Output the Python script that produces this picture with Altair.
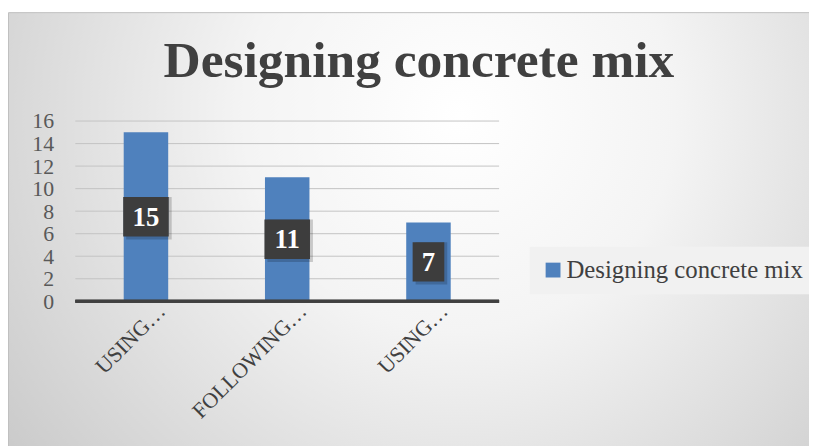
import altair as alt
import pandas as pd

labels = ["USING…", "FOLLOWING…", "USING…"]
values = [15, 11, 7]
series_name = "Designing concrete mix"
title_text = "Designing concrete mix"
y_ticks = [0, 2, 4, 6, 8, 10, 12, 14, 16]

df = pd.DataFrame({
    "idx": list(range(len(values))),
    "value": values,
    "series": [series_name] * len(values),
})
df["lab"] = df["value"].astype(str)
grid_df = pd.DataFrame({"tick": y_ticks[1:]})

W, H = 428, 182
PL, PT = 68, 112
TOTAL_W, TOTAL_H = 809, 438

label_expr = "[" + ",".join('"%s"' % l for l in labels) + "][datum.value]"

xenc = alt.X(
    "idx:O",
    scale=alt.Scale(paddingInner=0.685, paddingOuter=0.3425),
    axis=alt.Axis(
        title=None, labelExpr=label_expr, labelAngle=-45, labelAlign="right",
        labelBaseline="middle", labelFont="Liberation Serif", labelFontSize=22,
        labelColor="#404040", ticks=False, domain=False, grid=False,
        labelPadding=6, labelOffset=16, zindex=1, labelOverlap=False,
    ),
)
yscale = alt.Scale(domain=[0, 16], nice=False)

bg_fill = alt.Gradient(
    gradient="radial",
    x1=0.55, y1=0.35, r1=0.0,
    x2=0.55, y2=0.35, r2=0.75,
    stops=[
        alt.GradientStop(color="#ffffff", offset=0.0),
        alt.GradientStop(color="#f4f4f4", offset=0.35),
        alt.GradientStop(color="#c4c4c4", offset=1.0),
    ],
)

background = alt.Chart(alt.Data(values=[{"a": 1}])).mark_rect(
    fill=bg_fill, stroke="#bfbfbf", strokeWidth=1
).encode(
    x=alt.value(-PL + 0.5), x2=alt.value(TOTAL_W - PL + 20),
    y=alt.value(-PT + 2.5), y2=alt.value(TOTAL_H - PT + 20),
)

title = alt.Chart(alt.Data(values=[{"a": 1}])).mark_text(
    font="Liberation Serif", fontSize=52, fontWeight="bold", color="#404040",
    align="center", baseline="alphabetic",
).encode(x=alt.value(347), y=alt.value(-44), text=alt.value(title_text))

yaxis = alt.Axis(
    title=None, values=y_ticks, labelFont="Liberation Serif",
    labelFontSize=22, labelColor="#595959", ticks=False, domain=False,
    grid=False, labelPadding=22, zindex=1, labelOverlap=False,
    labelFlush=False,
)

grid = alt.Chart(grid_df).mark_rule(color="#c3c3c3", strokeWidth=1).encode(
    y=alt.Y("tick:Q", scale=yscale, axis=yaxis)
)

base = alt.Chart(df)

bars = base.mark_bar().encode(
    x=xenc,
    y=alt.Y("value:Q", scale=yscale, axis=yaxis),
    color=alt.Color(
        "series:N", scale=alt.Scale(range=["#4f81bd"]),
        legend=alt.Legend(
            title=None, orient="none", legendX=459, legendY=127,
            symbolType="square", symbolSize=225, symbolStrokeWidth=0,
            labelFont="Liberation Serif", labelFontSize=25, labelColor="#404040",
            fillColor="#f1f1f1", padding=11, labelLimit=400, labelOffset=1,
        ),
    ),
)

baseline = base.mark_rule(color="#404040", strokeWidth=3).encode(
    y=alt.datum(0, scale=yscale, axis=yaxis)
)

box_calc = base.transform_calculate(
    lo="datum.value / 2 - 1.75", hi="datum.value / 2 + 1.75", mid="datum.value / 2",
    n="length(datum.lab)",
)

def box_layer(cond, w, color, opacity, off):
    return box_calc.transform_filter(cond).mark_bar(
        width=w, color=color, opacity=opacity, xOffset=off, yOffset=off
    ).encode(x=xenc, y=alt.Y("lo:Q", scale=yscale, axis=yaxis), y2="hi:Q")

shadow2 = box_layer("datum.n >= 2", 46, "#000000", 0.18, 3)
shadow1 = box_layer("datum.n < 2", 32, "#000000", 0.18, 3)
box2 = box_layer("datum.n >= 2", 46, "#3d3d3d", 1, 0)
box1 = box_layer("datum.n < 2", 32, "#3d3d3d", 1, 0)

texts = box_calc.mark_text(
    font="Liberation Serif", fontSize=27, fontWeight="bold", color="#ffffff",
    baseline="middle", align="center", dy=1,
).encode(x=xenc, y=alt.Y("mid:Q", scale=yscale, axis=yaxis), text="lab:N")

chart = alt.layer(
    background, title, grid, bars, baseline, shadow2, shadow1, box2, box1, texts
).properties(
    width=W, height=H,
    autosize=alt.AutoSizeParams(type="none"),
    padding={"left": PL, "top": PT, "right": TOTAL_W - PL - W, "bottom": TOTAL_H - PT - H},
    background="#ffffff",
).configure_view(stroke=None)

chart.save("out.html", embed_options={"renderer": "svg", "actions": False})
